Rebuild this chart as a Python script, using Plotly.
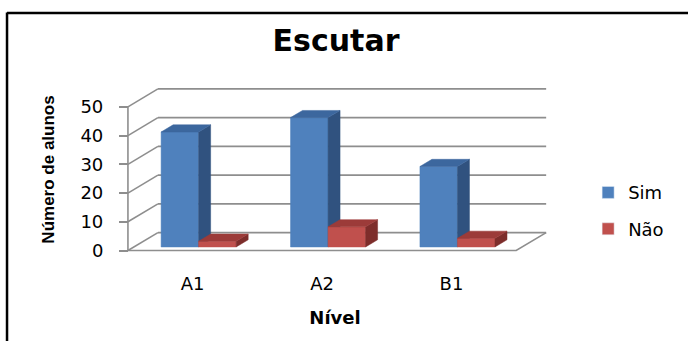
import plotly.graph_objects as go

# ---- data ----
categories = ["A1", "A2", "B1"]
series_names = ["Sim", "Não"]
sim = [40, 45, 28]
nao = [2, 7, 3]
y_ticks = [0, 10, 20, 30, 40, 50]

# ---- geometry / styles ----
W, H = 688, 341
DX = 0.2317   # depth offset (category units)
DY = 6.25     # depth offset (value units)
BAR_W = 0.29
D0, D1 = 0.2, 0.6
XR = [-0.6, 2.8]
YR = [-1.2, 57.6]
PX, PY = 129.5, 2.88
x_front_px = 127.5
y_zero_px = 250.5
L = x_front_px - (-0.5 - XR[0]) * PX
PLOTW = (XR[1] - XR[0]) * PX
R = W - L - PLOTW
T = y_zero_px - YR[1] * PY
PLOTH = (YR[1] - YR[0]) * PY
B = H - T - PLOTH

FONT = "DejaVu Sans"
GRID = "#8E8E8E"
COLORS = {
    "Sim": {"front": "#4F81BD", "side": "#30527F", "top": "#3C679E"},
    "Não": {"front": "#C0504D", "side": "#7D2D2B", "top": "#9C3B39"},
}


def P(x, v, d):
    return x + d * DX, v + d * DY


def px2paper_x(px):
    return (px - L) / PLOTW


def px2paper_y(py):
    return (H - B - py) / PLOTH


fig = go.Figure()

# back wall gridlines + left wall diagonals
gx, gy = [], []
for v in y_ticks:
    for (a, b) in [(P(-0.5, v, 1), P(2.5, v, 1)), (P(-0.5, v, 0), P(-0.5, v, 1))]:
        gx += [a[0], b[0], None]
        gy += [a[1], b[1], None]
# floor front + right edge
f = [P(-0.5, 0, 0), P(2.5, 0, 0), P(2.5, 0, 1)]
gx += [p[0] for p in f] + [None]
gy += [p[1] for p in f] + [None]
# front vertical axis
a, b = P(-0.5, 0, 0), P(-0.5, y_ticks[-1], 0)
gx += [a[0], b[0], None]
gy += [a[1], b[1], None]
fig.add_trace(go.Scatter(x=gx, y=gy, mode="lines", line=dict(color=GRID, width=1.6),
                         hoverinfo="skip", showlegend=False))


def add_face(pts, color):
    xs = [p[0] for p in pts] + [pts[0][0]]
    ys = [p[1] for p in pts] + [pts[0][1]]
    fig.add_trace(go.Scatter(x=xs, y=ys, mode="lines", fill="toself", fillcolor=color,
                             line=dict(color=color, width=0.5), hoverinfo="skip",
                             showlegend=False))


for i, cat in enumerate(categories):
    for name, vals, xl, xr in [("Sim", sim, i - BAR_W, i), ("Não", nao, i, i + BAR_W)]:
        v = vals[i]
        c = COLORS[name]
        add_face([P(xl, 0, D0), P(xr, 0, D0), P(xr, v, D0), P(xl, v, D0)], c["front"])
        add_face([P(xr, 0, D0), P(xr, 0, D1), P(xr, v, D1), P(xr, v, D0)], c["side"])
        add_face([P(xl, v, D0), P(xr, v, D0), P(xr, v, D1), P(xl, v, D1)], c["top"])

# legend entries
for k, name in enumerate(series_names):
    fig.add_trace(go.Bar(x=[None], y=[None], name=name, legendgroup=name,
                         marker_color=COLORS[name]["front"]))

fig.update_layout(
    width=W, height=H, autosize=False,
    margin=dict(l=L, r=R, t=T, b=B, pad=0),
    paper_bgcolor="white", plot_bgcolor="white",
    title=dict(text="<b>Escutar</b>", x=336 / W, xanchor="center", xref="container",
               y=1 - 40 / H, yanchor="middle", yref="container",
               font=dict(family=FONT, size=30, color="black")),
    xaxis=dict(range=XR, showgrid=False, zeroline=False, showline=False,
               tickvals=list(range(len(categories))), ticktext=categories,
               ticks="", ticklabelstandoff=17,
               tickfont=dict(family=FONT, size=18, color="black"),
               title=dict(text="<b>Nível</b>", standoff=18,
                          font=dict(family=FONT, size=18, color="black"))),
    yaxis=dict(range=YR, showgrid=False, zeroline=False, showline=False,
               anchor="free", position=px2paper_x(x_front_px),
               tickvals=y_ticks, ticks="outside", ticklen=9, tickwidth=1.6,
               tickcolor=GRID, ticklabelstandoff=12,
               tickfont=dict(family=FONT, size=18, color="black"),
               title=dict(text="<b>Número de alunos</b>", standoff=20,
                          font=dict(family="Liberation Sans", size=17, color="black"))),
    legend=dict(x=px2paper_x(588), y=px2paper_y(174), xanchor="left", yanchor="top",
                font=dict(family=FONT, size=18, color="black"),
                tracegroupgap=10, bgcolor="rgba(0,0,0,0)"),
    showlegend=True,
    shapes=[
        dict(type="line", xref="paper", yref="paper",
             x0=px2paper_x(6.5), x1=px2paper_x(700), y0=px2paper_y(12.5), y1=px2paper_y(12.5),
             line=dict(color="black", width=2.5)),
        dict(type="line", xref="paper", yref="paper",
             x0=px2paper_x(6.5), x1=px2paper_x(6.5), y0=px2paper_y(12), y1=px2paper_y(360),
             line=dict(color="black", width=2.5)),
    ],
)

fig.write_html("out.html")
